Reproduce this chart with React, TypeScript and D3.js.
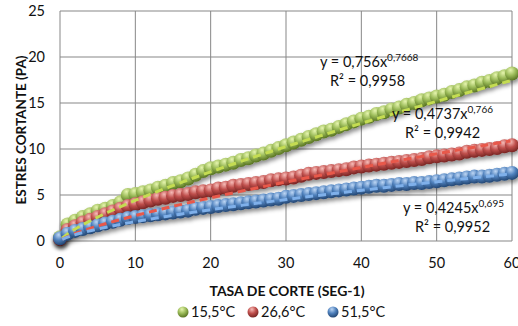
import React from "react";
import * as d3 from "d3";

const shearRate = [0,1,2,3,4,5,6,7,8,9,10,11,12,13,14,15,16,17,18,19,20,21,22,23,24,25,26,27,28,29,30,31,32,33,34,35,36,37,38,39,40,41,42,43,44,45,46,47,48,49,50,51,52,53,54,55,56,57,58,59,60];
const stress155 = [0.4,1.8,2.2,2.6,2.9,3.3,3.5,3.8,4.2,5.0,5.1,5.3,5.5,5.8,6.0,6.3,6.5,6.8,7.2,7.6,7.9,8.1,8.3,8.5,8.8,9.0,9.3,9.5,9.8,10.1,10.4,10.7,11.0,11.3,11.6,11.9,12.1,12.4,12.7,13.0,13.3,13.5,13.8,14.0,14.3,14.5,14.8,15.0,15.3,15.5,15.7,15.9,16.2,16.4,16.7,16.9,17.2,17.4,17.7,17.9,18.2];
const stress266 = [0.2,1.2,1.6,2.0,2.3,2.6,2.9,3.2,3.5,3.8,4.0,4.2,4.4,4.6,4.7,4.9,5.0,5.1,5.3,5.4,5.5,5.7,5.8,6.0,6.1,6.2,6.3,6.4,6.6,6.7,6.8,6.9,7.1,7.3,7.4,7.5,7.6,7.7,7.8,8.0,8.1,8.2,8.3,8.4,8.5,8.6,8.7,8.8,8.9,9.1,9.2,9.3,9.4,9.5,9.7,9.8,9.9,10.0,10.1,10.3,10.4];
const stress515 = [0.3,0.8,1.1,1.3,1.5,1.7,1.9,2.1,2.3,2.5,2.6,2.7,2.8,2.9,3.0,3.1,3.2,3.3,3.5,3.6,3.7,3.8,3.9,4.0,4.1,4.2,4.3,4.4,4.5,4.6,4.8,4.9,5.0,5.1,5.2,5.3,5.4,5.5,5.6,5.7,5.8,5.9,6.0,6.0,6.1,6.2,6.2,6.3,6.3,6.4,6.5,6.6,6.7,6.8,6.9,7.0,7.0,7.1,7.2,7.3,7.4];

const seriesNames = ["15,5°C", "26,6°C", "51,5°C"];
const trendCoef = [0.756, 0.4737, 0.4245];
const trendExp = [0.7668, 0.766, 0.695];
const trendLabels = ["y = 0,756x", "y = 0,4737x", "y = 0,4245x"];
const trendExpLabels = ["0,7668", "0,766", "0,695"];
const r2Labels = ["R² = 0,9958", "R² = 0,9942", "R² = 0,9952"];
const xTicks = [0, 10, 20, 30, 40, 50, 60];
const yTicks = [0, 5, 10, 15, 20, 25];

const colors = [
  { hi: "#e6f5ae", base: "#9bbb59", dark: "#55701f", trend: "#c4dc52" },
  { hi: "#f7bcb8", base: "#c0504d", dark: "#742220", trend: "#e8584a" },
  { hi: "#bdd6f4", base: "#4f81bd", dark: "#21436f", trend: "#7fb0ea" },
];

const FONT = "Lato, 'Open Sans', sans-serif";

export default function App() {
  const W = 518, H = 326;
  const x = d3.scaleLinear().domain([0, 60]).range([60, 512]);
  const y = d3.scaleLinear().domain([0, 25]).range([241, 11]);
  const data = [stress155, stress266, stress515];

  const trendXs = d3.range(0.3, 60.01, 0.5);
  const line = d3.line<number>();

  const annot = [
    { x: 320, y: 67, rx: 330, ry: 86 },
    { x: 392, y: 119, rx: 405, ry: 138 },
    { x: 403, y: 213, rx: 415, ry: 232 },
  ];

  return (
    <svg width={W} height={H} style={{ position: "absolute", left: 0, top: 0, background: "#fff" }} fontFamily={FONT}>
      <defs>
        {colors.map((c, i) => (
          <radialGradient key={i} id={`g${i}`} cx="0.4" cy="0.3" r="0.72" fx="0.4" fy="0.25">
            <stop offset="0" stopColor={c.hi} />
            <stop offset="0.5" stopColor={c.base} />
            <stop offset="1" stopColor={c.dark} />
          </radialGradient>
        ))}
        <filter id="shadow" x="-10%" y="-20%" width="120%" height="160%">
          <feDropShadow dx="1" dy="3" stdDeviation="2" floodColor="#000" floodOpacity="0.45" />
        </filter>
      </defs>
      <rect width={W} height={H} fill="#fff" />
      {xTicks.map((t) => (
        <line key={"gx" + t} x1={x(t)} x2={x(t)} y1={y(25)} y2={y(0)} stroke="#878787" strokeWidth={1} />
      ))}
      {yTicks.map((t) => (
        <line key={"gy" + t} x1={x(0)} x2={x(60)} y1={y(t)} y2={y(t)} stroke="#878787" strokeWidth={1} />
      ))}
      {yTicks.map((t) => (
        <text key={"ty" + t} x={45} y={y(t) + 5} textAnchor="end" fontSize={14.5} fill="#111">{t}</text>
      ))}
      {xTicks.map((t) => (
        <text key={"tx" + t} x={x(t)} y={268} textAnchor="middle" fontSize={14.5} fill="#111">{t}</text>
      ))}
      {data.map((vals, si) => (
        <g key={"s" + si} filter="url(#shadow)">
          {vals.map((v, i) => (
            <circle key={i} cx={x(shearRate[i])} cy={y(v)} r={7} fill={`url(#g${si})`} />
          ))}
        </g>
      ))}
      {trendCoef.map((a, si) => (
        <path
          key={"t" + si}
          d={line(trendXs.map((t) => [x(t), y(a * Math.pow(t, trendExp[si]))]) as any) || ""}
          fill="none"
          stroke={colors[si].trend}
          strokeWidth={3}
          strokeDasharray="8 5"
        />
      ))}
      {annot.map((a, i) => (
        <g key={"a" + i} fontSize={14.5} fill="#111">
          <text x={a.x} y={a.y}>
            {trendLabels[i]}
            <tspan dy={-6} fontSize={10}>{trendExpLabels[i]}</tspan>
          </text>
          <text x={a.rx} y={a.ry}>{r2Labels[i]}</text>
        </g>
      ))}
      <text x={287} y={296} textAnchor="middle" fontSize={14} fontWeight="bold" fill="#111">TASA DE CORTE (SEG-1)</text>
      <text transform={`translate(26,130) rotate(-90)`} textAnchor="middle" fontSize={13.5} fontWeight="bold" fill="#111">ESTRES CORTANTE (PA)</text>
      {seriesNames.map((n, i) => {
        const lx = [183, 253, 333][i];
        return (
          <g key={"l" + i}>
            <circle cx={lx} cy={312} r={5.5} fill={`url(#g${i})`} />
            <text x={lx + 8} y={317} fontSize={14.5} fill="#111">{n}</text>
          </g>
        );
      })}
    </svg>
  );
}
